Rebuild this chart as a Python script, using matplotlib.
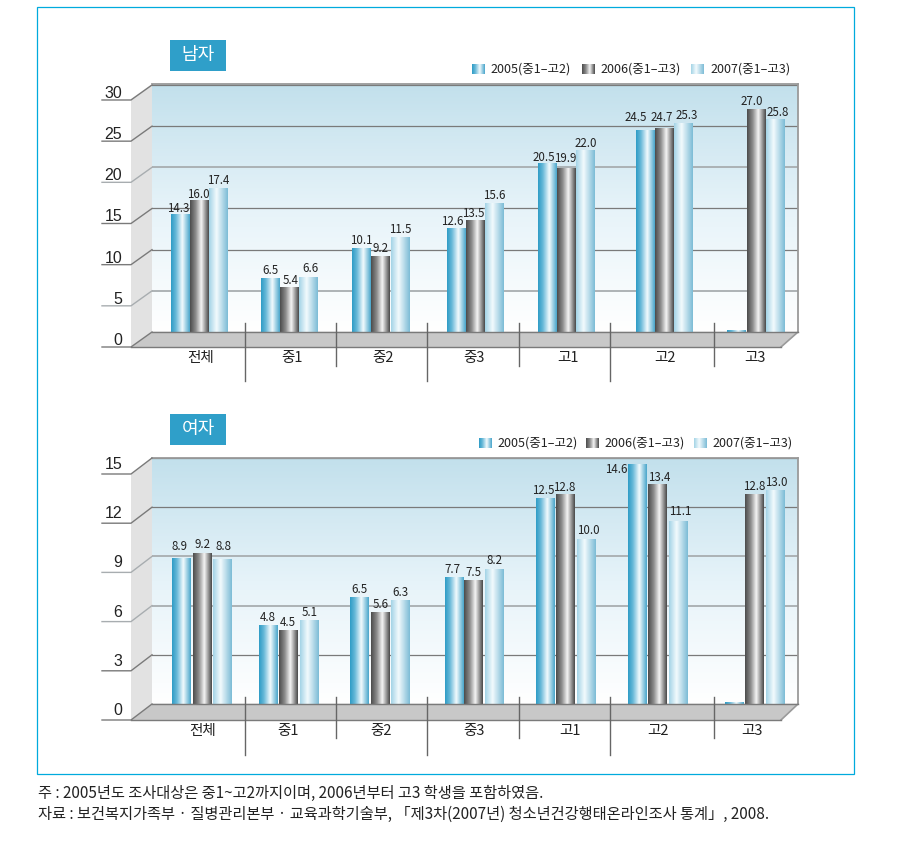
import numpy as np
import matplotlib
matplotlib.use("Agg")
import matplotlib.pyplot as plt
from matplotlib.patches import Polygon, Rectangle
from matplotlib.transforms import ScaledTranslation
from matplotlib.colors import LinearSegmentedColormap

CJK = ['Liberation Sans Narrow', 'Noto Sans CJK KR', 'DejaVu Sans']
REG = ['Noto Sans CJK KR', 'DejaVu Sans']
plt.rcParams['font.family'] = CJK

categories = ['전체', '중1', '중2', '중3', '고1', '고2', '고3']
series_names = ['2005(중1–고2)', '2006(중1–고3)', '2007(중1–고3)']
male_2005 = [14.3, 6.5, 10.1, 12.6, 20.5, 24.5, 0.15]
male_2006 = [16.0, 5.4, 9.2, 13.5, 19.9, 24.7, 27.0]
male_2007 = [17.4, 6.6, 11.5, 15.6, 22.0, 25.3, 25.8]
female_2005 = [8.9, 4.8, 6.5, 7.7, 12.5, 14.6, 0.08]
female_2006 = [9.2, 4.5, 5.6, 7.5, 12.8, 13.4, 12.8]
female_2007 = [8.8, 5.1, 6.3, 8.2, 10.0, 11.1, 13.0]
male_ticks = [0, 5, 10, 15, 20, 25, 30]
female_ticks = [0, 3, 6, 9, 12, 15]
footnotes = ['주 : 2005년도 조사대상은 중1~고2까지이며, 2006년부터 고3 학생을 포함하였음.',
             '자료 : 보건복지가족부 · 질병관리본부 · 교육과학기술부, 「제3차(2007년) 청소년건강행태온라인조사 통계」, 2008.']

W, H = 899, 859
fig = plt.figure(figsize=(W/100, H/100), dpi=100)
ov = fig.add_axes([0, 0, 1, 1], zorder=5)
ov.set_xlim(0, W); ov.set_ylim(H, 0); ov.axis('off')
ov.patch.set_alpha(0)

cmaps = [
    LinearSegmentedColormap.from_list('a', [(0, '#2f9cc6'), (.25, '#66b8d8'), (.6, '#f2fafd'), (1, '#4aa6cb')]),
    LinearSegmentedColormap.from_list('b', [(0, '#4c4c4c'), (.3, '#8c8c8c'), (.6, '#f4f4f4'), (1, '#4a4a4a')]),
    LinearSegmentedColormap.from_list('c', [(0, '#a4d4e6'), (.4, '#f2fafd'), (1, '#7dbcd6')]),
]
wall_cmap = LinearSegmentedColormap.from_list('w', ['#ffffff', '#e6f3f9', '#c2e0ec'])
grad = np.linspace(0, 1, 64).reshape(1, -1)


def panel(top, base, depth, ymax, ticks, light, vals, lefts, width, tick_y_shift, cat_x, cat_y,
          seps, title, title_y, leg_y, leg_sw, offsets):
    ax = fig.add_axes([152/W, 1-base/H, (798-152)/W, (base-top)/H], zorder=2)
    ax.set_xlim(152, 798); ax.set_ylim(0, ymax)
    ax.imshow(np.linspace(1, 0, 128).reshape(-1, 1), extent=[152, 798, 0, ymax], aspect='auto',
              cmap=wall_cmap, zorder=0)
    ax.set_yticks(ticks)
    ax.set_yticklabels([str(t) for t in ticks], fontsize=11.5, family='Liberation Sans', color='#222222')
    ax.tick_params(axis='y', length=0, pad=21.5)
    off = ScaledTranslation(0, -tick_y_shift/100, fig.dpi_scale_trans)
    for lab in ax.get_yticklabels():
        lab.set_transform(lab.get_transform() + off)
    ax.set_xticks([])
    ax.grid(axis='y', color='#7a7a7a', lw=0.9, zorder=1)
    for t, ln in zip(ticks, ax.get_ygridlines()):
        if t in light:
            ln.set_color('#a8adb0'); ln.set_linewidth(1.3)
    ax.set_axisbelow(True)
    for k in ('left', 'bottom'):
        ax.spines[k].set_visible(False)
    for k in ('top', 'right'):
        ax.spines[k].set_color('#9a9a9a'); ax.spines[k].set_linewidth(1.3)

    for s, (series, ls) in enumerate(zip(vals, lefts)):
        for i, (v, x0) in enumerate(zip(series, ls)):
            ax.imshow(grad, extent=[x0, x0+width, 0, v], aspect='auto', cmap=cmaps[s], zorder=3)
            if v >= 1:
                dx, dy = offsets.get((s, i), (0, 0))
                ax.annotate(f'{v:.1f}', (x0+width/2, v), xytext=(dx*.72, (8+dy)*.72),
                            textcoords='offset points', ha='center', va='center',
                            fontsize=8.3, color='#222222', zorder=4, annotation_clip=False)
    ax.set_xlim(152, 798); ax.set_ylim(0, ymax)

    # 3D side wall, floor and slanted tick lines drawn in pixel overlay
    scale = (base-top)/ymax
    ov.add_patch(Polygon([(131, top+depth), (152, top), (152, base), (131, base+depth)],
                         fc='#e2e2e2', ec='none', zorder=1))
    ov.add_patch(Polygon([(152, base), (798, base), (781, base+depth), (131, base+depth)],
                         fc='#c8c8c8', ec='none', zorder=1))
    ov.plot([798, 781], [base, base+depth], color='#9a9a9a', lw=1.2, zorder=2)
    for t in ticks:
        yb = base - t*scale
        c = '#a8adb0' if t in light else '#7a7a7a'
        ov.plot([102, 131, 152], [yb+depth, yb+depth, yb], color=c, lw=1.0, zorder=2,
                solid_joinstyle='round')
    ov.plot([131, 781], [base+depth, base+depth], color='#7a7a7a', lw=1.0, zorder=2)
    ov.plot([152, 798], [base, base], color='#7a7a7a', lw=1.0, zorder=2)
    for x, y0, y1 in seps:
        ov.plot([x, x], [y0, y1], color='#666666', lw=1.0, zorder=6)
    for c, x in zip(categories, cat_x):
        ov.text(x, cat_y, c, ha='center', va='center', fontsize=10.5, family=REG, color='#222222')
    ov.add_patch(Rectangle((170, title_y), 56, 31, fc='#2f9fc9', ec='none'))
    ov.text(198, title_y+15, title, ha='center', va='center', color='white', fontsize=13, family=REG)
    for name, (sx, tx), cm in zip(series_names, leg_sw, cmaps):
        ov.imshow(grad, extent=[sx, sx+13, leg_y+5, leg_y-5], aspect='auto', cmap=cm, zorder=3)
        ov.text(tx, leg_y, name, ha='left', va='center', fontsize=9.0, color='#222222')
    ov.set_xlim(0, W); ov.set_ylim(H, 0)


w = 18.5
panel(84, 332, 15, 30.12, male_ticks, [5, 20], [male_2005, male_2006, male_2007],
      [[171, 261, 352, 447, 538, 636, 727],
       [190, 280, 371, 466, 557, 655, 747],
       [209, 299, 391, 485, 576, 674, 766]], w, 7,
      [201, 292, 383, 474, 568, 665, 755], 358,
      [(245, 323, 381), (336, 323, 366), (427, 323, 381), (519, 323, 366), (610, 323, 381), (714, 323, 366)],
      '남자', 40, 69, [(472, 490), (582, 600), (691, 710)],
      {(0, 0): (-2, -2), (1, 0): (-1, -2), (1, 1): (1, -1), (2, 1): (2, 1),
       (1, 3): (-2, -1), (0, 3): (-4, -1), (0, 4): (-3, -2), (1, 4): (-1, 2), (2, 4): (1, -1),
       (0, 5): (-10, 5), (1, 5): (-3, 3), (2, 5): (3, 0), (1, 6): (-4, 0), (2, 6): (2, -1)})
panel(458, 704, 16, 15, female_ticks, [6, 9], [female_2005, female_2006, female_2007],
      [[172, 259, 350, 445, 536, 628, 725],
       [193, 279, 371, 464, 556, 648, 745],
       [213, 300, 391, 485, 577, 669, 766]], w, 5,
      [203, 288, 381, 474, 570, 658, 752], 731,
      [(245, 697, 755), (336, 697, 738), (427, 697, 755), (519, 697, 738), (610, 697, 755), (714, 697, 738)],
      '여자', 414, 443, [(479, 497), (586, 604), (694, 712)],
      {(0, 0): (-2, 4), (1, 0): (0, 1), (2, 0): (1, 5), (0, 3): (-2, 0), (2, 3): (0, 1),
       (0, 4): (-2, 0), (1, 4): (-1, -1), (2, 4): (2, 1), (0, 5): (-21, -13),
       (1, 5): (2, -1), (2, 5): (2, 2), (2, 6): (1, 0)})

ov.add_patch(Rectangle((37, 7), 817, 767, fc='none', ec='#00aadd', lw=0.9))
for y, t in zip([793, 814], footnotes):
    ov.text(38, y, t, ha='left', va='center', fontsize=11, family=REG, color='#222222')
fig.savefig('out.png', dpi=100)
